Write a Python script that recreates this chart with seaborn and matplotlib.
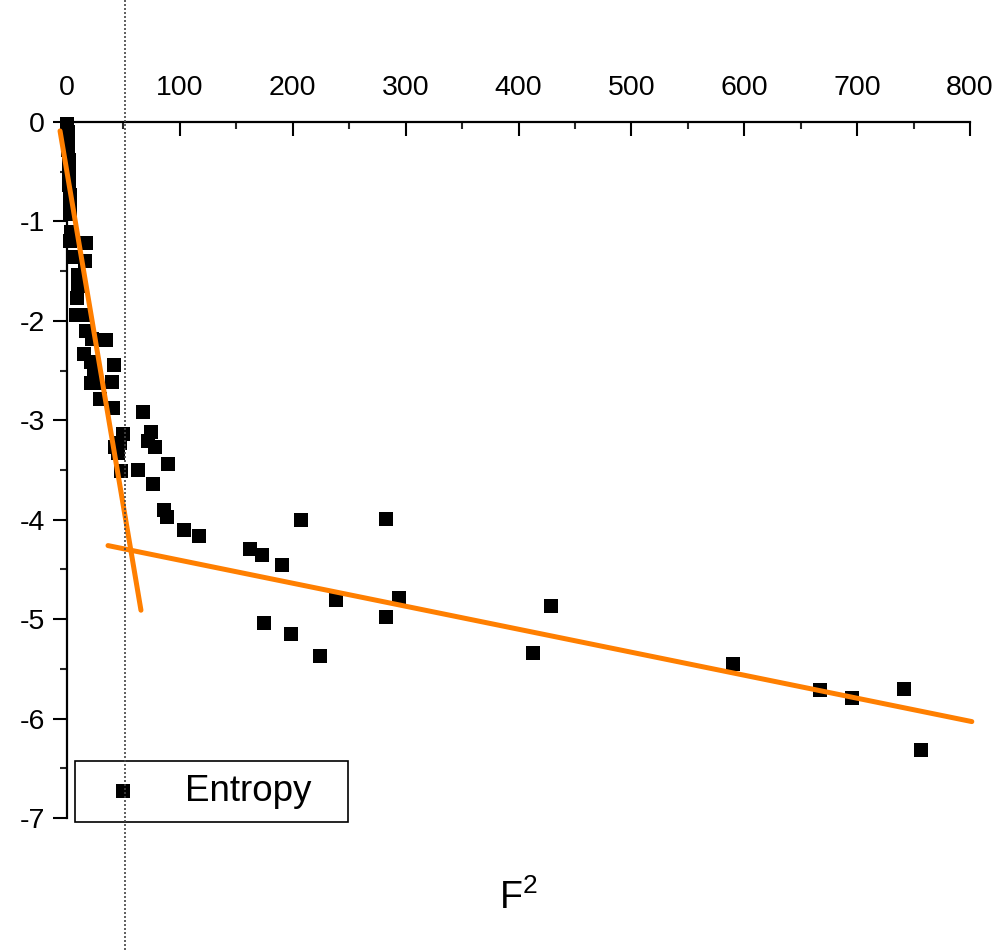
import matplotlib
matplotlib.use("Agg")
import matplotlib.pyplot as plt
from matplotlib.ticker import MultipleLocator
import pandas as pd
import seaborn as sns

# ---- data ----
f2 = [0.0, 0.9, 0.9, 0.9, 1.8, 1.8, 1.8, 2.7, 2.7, 2.7,
      3.5, 2.7, 16.8, 7.1, 15.9, 9.7, 9.7, 8.9, 8.0, 15.1,
      17.0, 22.0, 34.5, 15.1, 21.3, 23.9, 41.6, 21.3, 26.6, 39.9,
      29.2, 40.7, 67.3, 49.6, 46.9, 74.4, 71.7, 77.9, 42.5, 45.2,
      47.8, 62.9, 89.5, 76.2, 85.9, 88.6, 103.6, 116.9, 162.1, 172.7,
      190.4, 207.3, 282.6, 238.3, 294.1, 282.6, 174.5, 198.4, 224.1, 428.7,
      412.8, 589.9, 667.0, 695.3, 741.4, 756.4]
entropy = [-0.02, -0.10, -0.18, -0.28, -0.38, -0.50, -0.63, -0.73, -0.83, -0.93,
           -1.11, -1.20, -1.22, -1.36, -1.40, -1.54, -1.65, -1.77, -1.94, -1.94,
           -2.10, -2.18, -2.19, -2.33, -2.41, -2.49, -2.44, -2.62, -2.62, -2.61,
           -2.79, -2.88, -2.92, -3.14, -3.23, -3.12, -3.21, -3.27, -3.27, -3.33,
           -3.51, -3.50, -3.44, -3.64, -3.90, -3.97, -4.10, -4.16, -4.29, -4.35,
           -4.46, -4.00, -3.99, -4.81, -4.79, -4.98, -5.04, -5.15, -5.37, -4.87,
           -5.34, -5.45, -5.71, -5.79, -5.70, -6.32]
fit1_x = [-6.2, 65.5]
fit1_y = [-0.09, -4.91]
fit2_x = [36.3, 801.6]
fit2_y = [-4.26, -6.03]
cut_x = 51
x_ticks = [0, 100, 200, 300, 400, 500, 600, 700, 800]
y_ticks = [0, -1, -2, -3, -4, -5, -6, -7]
series_label = "Entropy"
x_label = "F$^2$"

sns.set_style("white")
plt.rcParams["font.family"] = ["Liberation Sans", "DejaVu Sans"]
plt.rcParams["mathtext.default"] = "regular"
plt.rcParams["text.color"] = "black"
plt.rcParams["axes.labelcolor"] = "black"

fig = plt.figure(figsize=(9.96, 9.5), dpi=100)
ax = fig.add_axes([0.0673, 0.1389, 0.9066, 0.7327])

df = pd.DataFrame({"F2": f2, "Entropy": entropy})
sns.scatterplot(data=df, x="F2", y="Entropy", marker="s", s=95, color="black",
                edgecolor="black", linewidth=0, label=series_label, ax=ax,
                zorder=2, clip_on=False)
orange = "#ff7f00"
sns.lineplot(x=fit1_x, y=fit1_y, color=orange, lw=3.6, ax=ax, zorder=3,
             legend=False, clip_on=False)
sns.lineplot(x=fit2_x, y=fit2_y, color=orange, lw=3.6, ax=ax, zorder=3,
             legend=False, clip_on=False)

ax.axvline(cut_x, ymin=-0.19, ymax=1.18, clip_on=False, color="#444444",
           lw=1.2, ls=(0, (1.2, 1.2)), zorder=6)

ax.set_xlim(0, 800)
ax.set_ylim(-7, 0)
ax.set_xticks(x_ticks)
ax.set_xticklabels([str(v) for v in x_ticks])
ax.set_yticks(y_ticks)
ax.set_yticklabels([str(v) for v in y_ticks])
ax.xaxis.set_minor_locator(MultipleLocator(50))
ax.yaxis.set_minor_locator(MultipleLocator(0.5))
ax.xaxis.tick_top()
ax.yaxis.tick_left()
for side in ["right", "bottom"]:
    ax.spines[side].set_visible(False)
for side in ["top", "left"]:
    ax.spines[side].set_linewidth(1.6)
    ax.spines[side].set_color("black")

ax.tick_params(axis="x", which="major", direction="in", length=10, width=1.5,
               labelsize=20.5, pad=15, colors="black")
ax.tick_params(axis="x", which="minor", direction="in", length=5, width=1.5)
ax.tick_params(axis="y", which="major", direction="out", length=10, width=1.5,
               labelsize=20.5, pad=6, colors="black")
ax.tick_params(axis="y", which="minor", direction="out", length=5, width=1.5)

ax.set_ylabel("")
ax.xaxis.set_label_position("bottom")
ax.set_xlabel(x_label, fontsize=27, labelpad=44, color="black")

leg = ax.legend(loc="upper left", bbox_to_anchor=(0.00886, -0.0158, 0.3023, 0.0977),
                mode="expand", borderaxespad=0, fontsize=26.5, frameon=True,
                fancybox=False, edgecolor="black", framealpha=1,
                handletextpad=0.75, handlelength=1.9, borderpad=0.35)
leg.get_frame().set_linewidth(1.2)
for t in leg.get_texts():
    t.set_color("black")

fig.savefig("out.png", dpi=100, facecolor="white")
